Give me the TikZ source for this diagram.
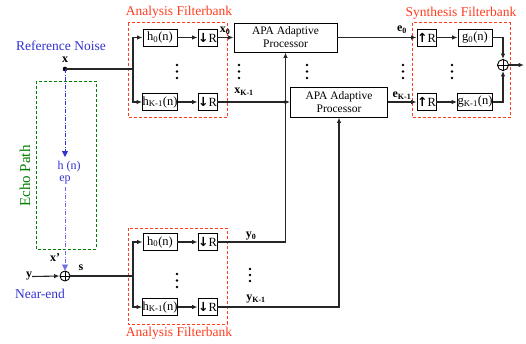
\documentclass[tikz,border=0pt]{standalone}
\usepackage{fontspec}
\setmainfont{Liberation Serif}
\newfontfamily\arrfont{DejaVu Sans}
\usetikzlibrary{arrows.meta}
\definecolor{fbred}{RGB}{255,60,30}
\definecolor{epgreen}{RGB}{0,128,0}
\definecolor{nblue}{RGB}{50,50,210}
\definecolor{lblue}{RGB}{110,110,230}
\begin{document}
\begin{tikzpicture}[x=1pt,y=-1pt,
  box/.style={draw=black,line width=0.9pt,inner sep=0pt,minimum height=17,font=\fontsize{12.5}{12.5}\selectfont},
  apabox/.style={draw=black,line width=0.9pt,inner sep=0pt,minimum height=29,align=center,font=\fontsize{11.5}{13}\selectfont},
  wire/.style={line width=1.1pt,draw=black!85},
  arr/.style={wire,-{Latex[length=5.5pt,width=4.5pt]}},
  fbox/.style={draw=fbred,dashed,dash pattern=on 3pt off 2pt,line width=0.8pt},
  fbtitle/.style={text=fbred,font=\fontsize{13.5}{14}\selectfont},
  lbl/.style={font=\bfseries\fontsize{12}{12}\selectfont,inner sep=0pt},
  bluetxt/.style={text=nblue,font=\fontsize{13.5}{14}\selectfont,inner sep=0pt},
  sumnode/.style={draw=black,line width=0.9pt,circle,inner sep=0pt,minimum size=11},
  eparr/.style={line width=0.8pt,dash pattern=on 4pt off 1.5pt on 1pt off 1.5pt,-{Triangle[length=6pt,width=6pt]}}
]
\useasboundingbox (0,0) rectangle (526,343);
\newcommand{\dn}{{\arrfont\bfseries ↓}R}
\newcommand{\up}{{\arrfont\bfseries ↑}R}
\newcommand{\vdotsat}[3]{\fill (#1,#2) circle (1.4); \fill (#1,{(#2+#3)/2}) circle (1.4); \fill (#1,#3) circle (1.4);}

% ---- dashed frames
\draw[fbox] (128,22.5) rectangle (227,117);
\draw[fbox] (412,22.5) rectangle (510,117);
\draw[fbox] (128,228) rectangle (227,324);
\draw[epgreen,dashed,dash pattern=on 3pt off 2pt,line width=0.8pt] (36,81) rectangle (96,249);

\node[fbtitle] (t1) at (179,12) {Analysis Filterbank};
\node[fbtitle] (t2) at (461,13) {Synthesis Filterbank};
\node[fbtitle] (t3) at (179,333) {Analysis Filterbank};
\node[text=epgreen,font=\fontsize{15}{15}\selectfont,rotate=90,inner sep=0pt] (ep) at (25,176) {Echo Path};

% ---- top analysis bank
\node[box,minimum width=34] (h0) at (160,37.5) {h\textsubscript{0}(n)};
\node[box,minimum width=19] (d0) at (207.5,37.5) {\dn};
\node[box,minimum width=34] (hK) at (160,102) {h\textsubscript{K-1}(n)};
\node[box,minimum width=19] (dK) at (207.5,102) {\dn};

% ---- APA processors
\node[apabox,minimum width=103] (apa1) at (285.5,37.5) {APA Adaptive\\Processor};
\node[apabox,minimum width=97,minimum height=30] (apa2) at (339,102) {APA Adaptive\\Processor};

% ---- synthesis bank
\node[box,minimum width=19] (u0) at (426.5,37.5) {\up};
\node[box,minimum width=34] (g0) at (475,37.5) {g\textsubscript{0}(n)};
\node[box,minimum width=19] (uK) at (426.5,102) {\up};
\node[box,minimum width=34] (gK) at (475,102) {g\textsubscript{K-1}(n)};
\node[sumnode] (sum) at (503,65) {};
\draw[line width=0.8pt] (sum.north) -- (sum.south) (sum.west) -- (sum.east);
\coordinate (out) at (524,65);

% ---- bottom analysis bank
\node[box,minimum width=34] (bh0) at (160,242) {h\textsubscript{0}(n)};
\node[box,minimum width=19] (bd0) at (207.5,242) {\dn};
\node[box,minimum width=34] (bhK) at (160,307) {h\textsubscript{K-1}(n)};
\node[box,minimum width=19] (bdK) at (207.5,307) {\dn};

% ---- left side
\node[bluetxt] (refn) at (61,45.5) {Reference Noise};
\node[lbl] (xl) at (65,60) {x};
\fill (65,69) circle (2.3);
\coordinate (xdot) at (65,69);
\coordinate (b1) at (133,69);
\node[sumnode,minimum size=10] (lsum) at (65,276) {};
\draw[line width=0.8pt] (lsum.north) -- (lsum.south) (lsum.west) -- (lsum.east);
\node[lbl] (yin) at (29,276.5) {y};
\node[lbl] (sl) at (81,268) {s};
\node[lbl] (xp) at (55,258) {x'};
\node[bluetxt] (near) at (40,294) {Near-end};
\coordinate (b2) at (133,276);
\coordinate (eptop) at (65,157);
\coordinate (epbot) at (65,187);
\node[text=nblue,font=\fontsize{12}{12}\selectfont,inner sep=0pt] (hep) at (69,166.5) {h (n)};
\node[text=nblue,font=\fontsize{12}{12}\selectfont,inner sep=0pt] (hepsub) at (65,179.5) {ep};

% ---- signal labels
\node[lbl] (lx0) at (225,31) {x\textsubscript{0}};
\node[lbl] (lxK) at (244,92) {x\textsubscript{K-1}};
\node[lbl] (le0) at (402,30) {e\textsubscript{0}};
\node[lbl] (leK) at (402,96) {e\textsubscript{K-1}};
\node[lbl] (ly0) at (251,236) {y\textsubscript{0}};
\node[lbl] (lyK) at (256,299) {y\textsubscript{K-1}};

% ---- dots
\vdotsat{177}{65}{78}
\vdotsat{239}{65}{78}
\vdotsat{307}{65}{78}
\vdotsat{403}{65}{78}
\vdotsat{452}{65}{78}
\vdotsat{177}{274}{287}
\vdotsat{250}{269}{281}

% ---- connectors, top
\draw[wire] (xdot) -- (b1);
\draw[arr] (b1) |- (h0.west);
\draw[arr] (b1) |- (hK.west);
\draw[arr] (h0) -- (d0);
\draw[arr] (hK) -- (dK);
\draw[arr] (d0) -- (apa1);
\draw[arr] (dK) -- (apa2);
\draw[arr] (apa1.east) -- (u0.west);
\draw[arr] (apa2.east) -- (uK.west);
\draw[arr] (u0) -- (g0);
\draw[arr] (uK) -- (gK);
\draw[arr] (g0.east) -| (sum.north);
\draw[arr] (gK.east) -| (sum.south);
\draw[arr] (sum.east) -- (out);

% ---- connectors, bottom
\draw[arr] (yin.east) -- (lsum.west);
\draw[wire] (lsum.east) -- (b2);
\draw[arr] (b2) |- (bh0.west);
\draw[arr] (b2) |- (bhK.west);
\draw[arr] (bh0) -- (bd0);
\draw[arr] (bhK) -- (bdK);
\draw[arr] (bd0.east) -| (apa1.south);
\draw[arr] (bdK.east) -| (apa2.south);

% ---- echo path
\draw[eparr,nblue] (xdot) -- (eptop);
\draw[eparr,lblue] (epbot) -- (lsum.north);
\end{tikzpicture}
\end{document}
